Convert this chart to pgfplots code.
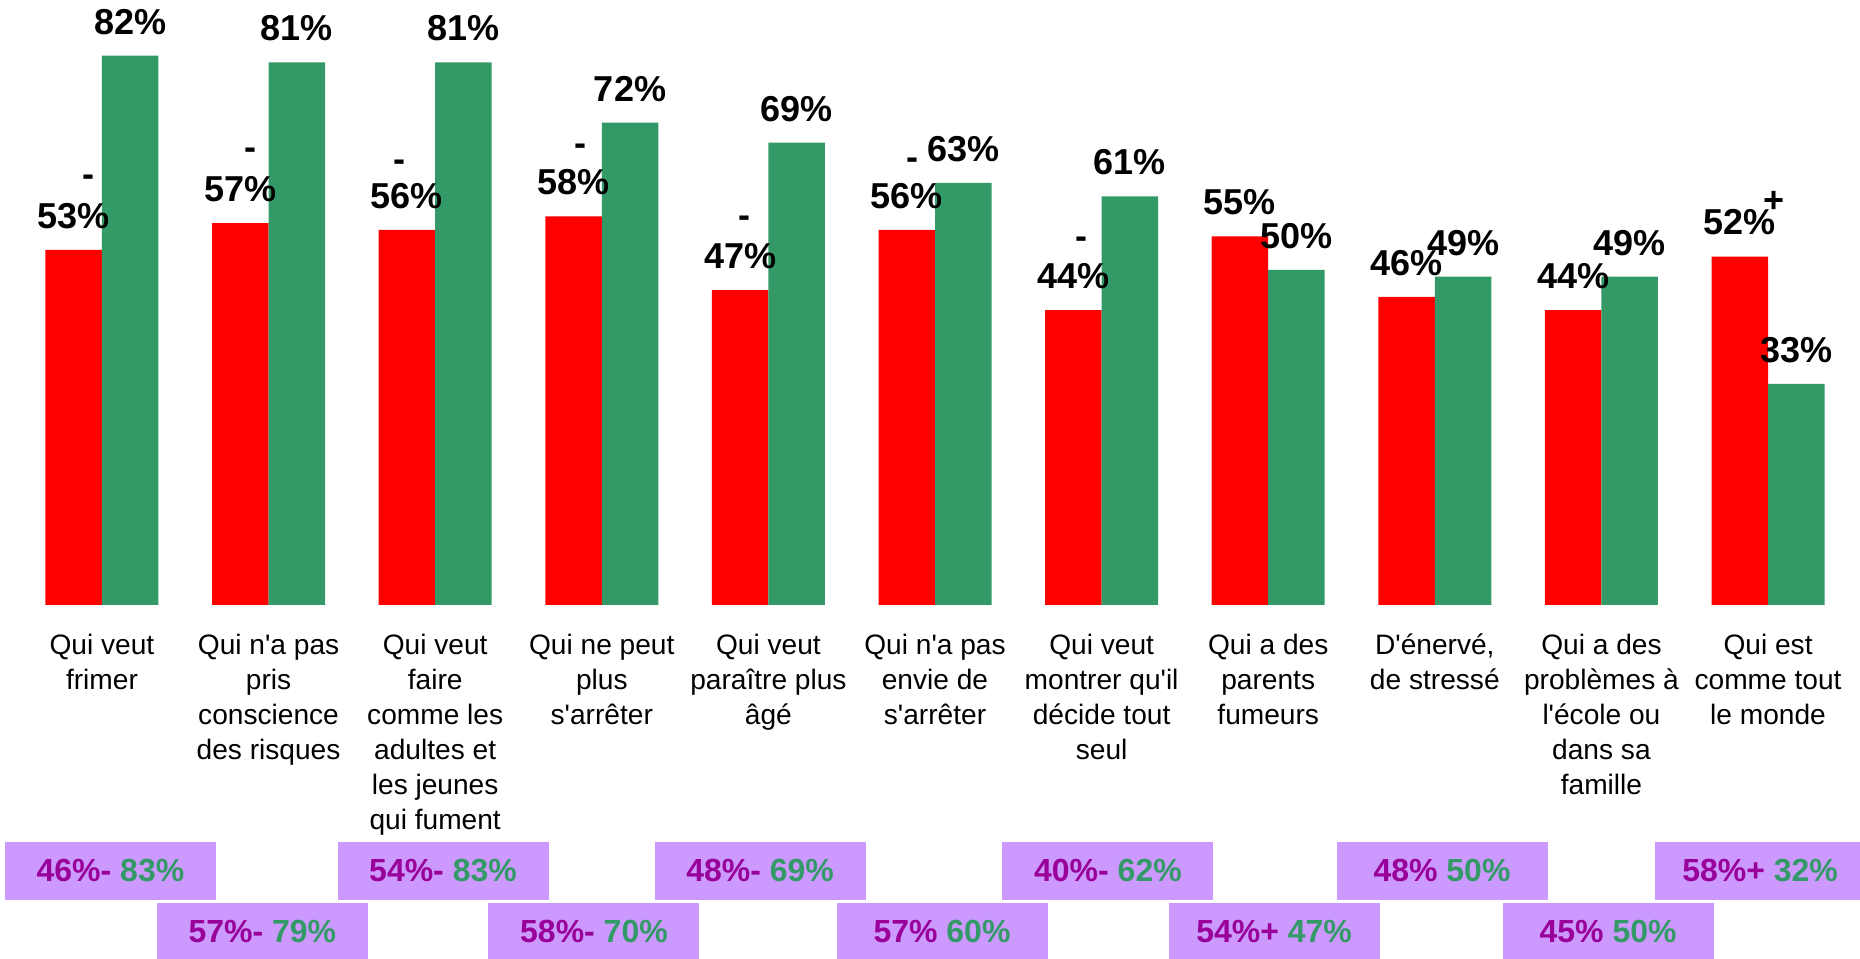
\documentclass[border=0pt]{standalone}
\usepackage{fontspec}
\setmainfont{Liberation Sans}
\usepackage{pgfplots}
\usepackage{pgfplotstable}
\pgfplotsset{compat=1.18}

\definecolor{cred}{HTML}{FF0000}
\definecolor{cgreen}{HTML}{339966}
\definecolor{boxfill}{HTML}{CC99FF}
\definecolor{tpurple}{HTML}{990099}
\newcommand\q{\textquotesingle}

% sig = marker above the red bar, sdx/sdy = its offset in px (0.1 mm)
\pgfplotstableread{
x  red green sig sdx sdy
0  53  82    -   15  69
1  57  81    -   10  69
2  56  81    -   -7  64
3  58  72    -   7   67
4  47  69    -   4   68
5  56  63    -   6   66
6  44  61    -   8   67
7  55  50    {}  0   0
8  46  49    {}  0   0
9  44  49    {}  0   0
10 52  33    +   34  55
}\data

\begin{document}
\begin{tikzpicture}
\begin{axis}[
    at={(0,0)}, anchor=south west,
    scale only axis,
    width=186mm, height=95.8mm,
    xmin=-0.612, xmax=10.552,
    ymin=-52.7, ymax=90.3,
    ybar, bar width=5.65mm,
    axis line style={draw=none},
    tick style={draw=none},
    ytick=\empty,
    xtick={0,...,10},
    xticklabels={
        {Qui veut\\frimer},
        {Qui n\q a pas\\pris\\conscience\\des risques},
        {Qui veut\\faire\\comme les\\adultes et\\les jeunes\\qui fument},
        {Qui ne peut\\plus\\s\q arrêter},
        {Qui veut\\paraître plus\\âgé},
        {Qui n\q a pas\\envie de\\s\q arrêter},
        {Qui veut\\montrer qu\q il\\décide tout\\seul},
        {Qui a des\\parents\\fumeurs},
        {D\q énervé,\\de stressé},
        {Qui a des\\problèmes à\\l\q école ou\\dans sa\\famille},
        {Qui est\\comme tout\\le monde}},
    xticklabel style={anchor=north, inner sep=0pt, yshift=34.0mm, align=center,
        font=\fontsize{8pt}{9.96pt}\selectfont},
    /pgf/number format/assume math mode=true,
    clip=false,
]
\addplot[fill=cred, draw=none, bar shift=-2.825mm,
    nodes near coords={\pgfmathprintnumber{\pgfplotspointmeta}\%},
    nodes near coords style={anchor=center, yshift=3.4mm,
        font=\bfseries\fontsize{10.25pt}{12pt}\selectfont}]
    table[x=x, y=red] {\data};
\addplot[fill=cgreen, draw=none, bar shift=2.825mm,
    nodes near coords={\pgfmathprintnumber{\pgfplotspointmeta}\%},
    nodes near coords style={anchor=center, yshift=3.4mm,
        font=\bfseries\fontsize{10.25pt}{12pt}\selectfont}]
    table[x=x, y=green] {\data};
% significance markers above the red values
\addplot[draw=none, fill=none, bar shift=-2.825mm, forget plot,
    point meta=explicit symbolic,
    visualization depends on={\thisrow{sdx} \as \sdx},
    visualization depends on={\thisrow{sdy} \as \sdy},
    nodes near coords,
    nodes near coords style={anchor=center, xshift=\sdx*0.1mm, yshift=\sdy*0.1mm,
        font=\bfseries\fontsize{10.25pt}{12pt}\selectfont}]
    table[x=x, y=red, meta=sig] {\data};

\tikzset{cmp/.style={fill=boxfill, minimum width=21.1mm, minimum height=5.8mm,
    inner sep=0pt, font=\bfseries\fontsize{9.1pt}{11pt}\selectfont}}
\node[cmp] at (axis cs:0.051,-39.70) {\textcolor{tpurple}{46\%-} \textcolor{cgreen}{83\%}};
\node[cmp] at (axis cs:2.047,-39.70) {\textcolor{tpurple}{54\%-} \textcolor{cgreen}{83\%}};
\node[cmp] at (axis cs:3.950,-39.70) {\textcolor{tpurple}{48\%-} \textcolor{cgreen}{69\%}};
\node[cmp] at (axis cs:6.038,-39.70) {\textcolor{tpurple}{40\%-} \textcolor{cgreen}{62\%}};
\node[cmp] at (axis cs:8.043,-39.70) {\textcolor{tpurple}{48\%} \textcolor{cgreen}{50\%}};
\node[cmp] at (axis cs:9.952,-39.70) {\textcolor{tpurple}{58\%+} \textcolor{cgreen}{32\%}};
\node[cmp] at (axis cs:0.963,-48.81) {\textcolor{tpurple}{57\%-} \textcolor{cgreen}{79\%}};
\node[cmp] at (axis cs:2.953,-48.81) {\textcolor{tpurple}{58\%-} \textcolor{cgreen}{70\%}};
\node[cmp] at (axis cs:5.042,-48.81) {\textcolor{tpurple}{57\%} \textcolor{cgreen}{60\%}};
\node[cmp] at (axis cs:7.035,-48.81) {\textcolor{tpurple}{54\%+} \textcolor{cgreen}{47\%}};
\node[cmp] at (axis cs:9.040,-48.81) {\textcolor{tpurple}{45\%} \textcolor{cgreen}{50\%}};
\end{axis}
\pgfresetboundingbox
\useasboundingbox (0,0) rectangle (186mm,95.8mm);
\end{tikzpicture}
\end{document}
